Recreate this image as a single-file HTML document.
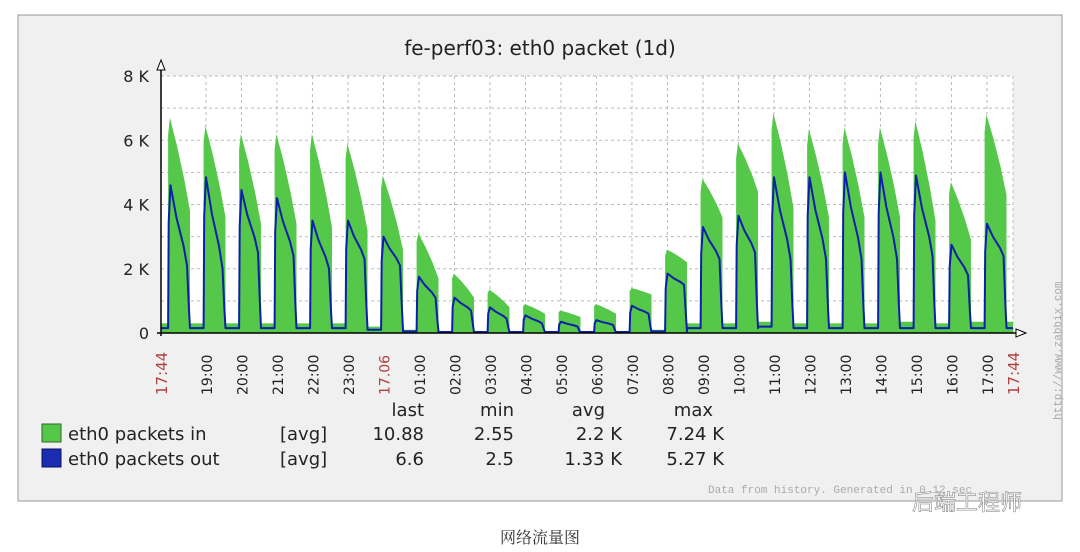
<!DOCTYPE html>
<html><head><meta charset="utf-8"><style>
body{margin:0;width:1080px;height:552px;background:#fff;overflow:hidden;font-family:"Liberation Sans","DejaVu Sans",sans-serif}
svg{position:absolute;left:0;top:0}
</style></head><body>
<svg id="chart" width="1080" height="552" xmlns="http://www.w3.org/2000/svg">
<rect x="18" y="15" width="1044" height="486" fill="#f0f0f0" stroke="#999"/>
<rect x="161" y="76" width="852" height="257" fill="#fff"/>
<g id="grid"></g>
<g id="marks"></g>
<g id="axes"></g>
<text x="540" y="55" text-anchor="middle" font-size="20" fill="#222" font-family="DejaVu Sans, sans-serif">fe-perf03: eth0 packet   (1d)</text>
<g font-family="DejaVu Sans, sans-serif" font-size="18" fill="#222">
<text x="424" y="416" text-anchor="end">last</text><text x="514" y="416" text-anchor="end">min</text><text x="605" y="416" text-anchor="end">avg</text><text x="713" y="416" text-anchor="end">max</text>
<rect x="42" y="424" width="19" height="18" fill="#55c84a" stroke="#2a6a22"/>
<text x="68" y="440">eth0 packets in</text>
<text x="280" y="440">[avg]</text><text x="424" y="440" text-anchor="end">10.88</text><text x="514" y="440" text-anchor="end">2.55</text><text x="622" y="440" text-anchor="end">2.2 K</text><text x="724" y="440" text-anchor="end">7.24 K</text>
<rect x="42" y="449" width="19" height="18" fill="#1a2db0" stroke="#0a1060"/>
<text x="68" y="465">eth0 packets out</text>
<text x="280" y="465">[avg]</text><text x="424" y="465" text-anchor="end">6.6</text><text x="514" y="465" text-anchor="end">2.5</text><text x="622" y="465" text-anchor="end">1.33 K</text><text x="724" y="465" text-anchor="end">5.27 K</text>
</g>
<text x="708" y="493" font-family="Liberation Mono, monospace" font-size="11" fill="#aaa">Data from history. Generated in 0.12 sec</text>
<text transform="translate(1061,420) rotate(-90)" font-family="Liberation Mono, monospace" font-size="11" fill="#aaa">http://www.zabbix.com</text>
<text x="912" y="510" font-family="Liberation Sans, Noto Sans CJK SC, sans-serif" font-size="22" fill="#fff" stroke="#777" stroke-width="0.5">后端工程师</text>
<text x="540" y="543" text-anchor="middle" font-family="Liberation Serif, Noto Serif CJK SC, serif" font-size="16" fill="#333">网络流量图</text>
</svg>
<script>
const hourLabels=["19:00","20:00","21:00","22:00","23:00","17.06","01:00","02:00","03:00","04:00","05:00","06:00","07:00","08:00","09:00","10:00","11:00","12:00","13:00","14:00","15:00","16:00","17:00"];
const yTicks=[0,2,4,6,8];
const burstStartMin=[12,72,132,192,252,312,372,432,492,552,612,672,732,792,852,912,972,1032,1092,1152,1212,1272,1332,1392];
const inPeak=[6.7,6.45,6.2,6.2,6.2,5.9,4.9,3.1,1.85,1.35,0.9,0.7,0.9,1.4,2.6,4.8,5.9,6.85,6.35,6.4,6.4,6.6,4.7,6.8];
const inEnd=[3.8,3.6,3.4,3.4,3.3,3.2,2.6,1.7,1.1,0.8,0.6,0.5,0.6,1.2,2.2,3.6,4.4,3.9,3.6,3.6,3.6,3.5,2.9,4.3];
const outPeak=[4.6,4.85,4.45,4.2,3.5,3.5,3.0,1.75,1.1,0.8,0.55,0.35,0.4,0.85,1.85,3.3,3.65,4.85,4.85,5.0,5.0,4.9,2.75,3.4];
const outEnd=[2.1,2.0,2.5,2.4,2.0,2.3,2.1,1.1,0.7,0.45,0.3,0.2,0.25,0.6,1.5,2.3,2.5,2.3,2.3,2.3,2.3,2.4,1.8,2.4];
const inBase=[0.3,0.3,0.3,0.3,0.3,0.3,0.2,0.1,0.05,0.05,0.05,0.05,0.05,0.05,0.1,0.3,0.3,0.35,0.3,0.3,0.3,0.35,0.3,0.35];
const outBase=[0.15,0.15,0.15,0.15,0.15,0.15,0.1,0.05,0.03,0.03,0.03,0.03,0.03,0.03,0.05,0.15,0.15,0.2,0.15,0.15,0.15,0.15,0.15,0.15];
const burstLen=37, totalMin=1440, firstHourMin=76;
const X0=161,X1=1013,Y0=333,Y1=76;
const x=m=>X0+(X1-X0)*m/totalMin;
const y=v=>Y0-(Y0-Y1)*v/8;
const NS="http://www.w3.org/2000/svg";
function mk(tag,attrs,parent){const e=document.createElementNS(NS,tag);for(const k in attrs)e.setAttribute(k,attrs[k]);parent.appendChild(e);return e;}
const grid=document.getElementById('grid'),marks=document.getElementById('marks'),axes=document.getElementById('axes');
for(let v=1;v<=8;v++){const l=mk('line',{x1:X0,x2:X1,y1:y(v),y2:y(v),stroke:'#bbb','stroke-dasharray':'3,3'},grid);}
hourLabels.forEach((lab,i)=>{const xm=x(firstHourMin+60*i);
const l=mk('line',{x1:xm,x2:xm,y1:Y1,y2:Y0,stroke:'#bbb','stroke-dasharray':'3,3'},grid);
const t=mk('text',{transform:`translate(${xm+6},${Y0+62}) rotate(-90)`,'font-size':14,'font-family':'DejaVu Sans, sans-serif',fill:lab==='17.06'?'#b04040':'#222'},axes);t.textContent=lab;});
mk('line',{x1:X1,x2:X1,y1:Y1,y2:Y0,stroke:'#bbb','stroke-dasharray':'3,3'},grid);
let dIn=`M${X0},${Y0}`,dOut='';
burstStartMin.forEach((s,i)=>{const prevEnd=i===0?0:burstStartMin[i-1]+burstLen;
const pk=inPeak[i],en=inEnd[i],op=outPeak[i],oe=outEnd[i];
dIn+=` L${x(prevEnd)},${y(inBase[i])} L${x(s)},${y(inBase[i])} L${x(s)},${y(pk*0.92)} L${x(s+3)},${y(pk)} L${x(s+15)},${y(pk-(pk-en)*0.3)} L${x(s+27)},${y(pk-(pk-en)*0.65)} L${x(s+burstLen)},${y(en)} L${x(s+burstLen)},${y(inBase[i])}`;
dOut+=(i===0?`M${x(prevEnd)},${y(outBase[i])}`:` L${x(prevEnd)},${y(outBase[i])}`)+` L${x(s)},${y(outBase[i])} L${x(s+1)},${y(op*0.75)} L${x(s+4)},${y(op)} L${x(s+14)},${y(op-(op-oe)*0.4)} L${x(s+26)},${y(op-(op-oe)*0.75)} L${x(s+burstLen-5)},${y(oe)} L${x(s+burstLen-2)},${y(oe*0.4)} L${x(s+burstLen)},${y(outBase[i])}`;});
dIn+=` L${X1},${y(inBase[inBase.length-1])} L${X1},${Y0} Z`;
dOut+=` L${X1},${y(outBase[outBase.length-1])}`;
const pin=mk('path',{d:dIn,fill:'#55c84a'},marks);
const pout=mk('path',{d:dOut,fill:'none',stroke:'#0c1fa8','stroke-width':2,'stroke-linejoin':'round'},marks);
mk('line',{x1:X0,x2:X0,y1:Y0+3,y2:62,stroke:'#000','stroke-width':1.5},axes);
mk('line',{x1:X0-4,x2:1020,y1:Y0,y2:Y0,stroke:'#000','stroke-width':1.5},axes);
mk('path',{d:`M${X0-4},70 L${X0},60 L${X0+4},70 Z`,fill:'#fff',stroke:'#000'},axes);
mk('path',{d:`M1016,${Y0-4} L1026,${Y0} L1016,${Y0+4} Z`,fill:'#fff',stroke:'#000'},axes);
yTicks.forEach(v=>{const t=mk('text',{x:149,y:y(v)+6,'text-anchor':'end','font-size':16,'font-family':'DejaVu Sans, sans-serif',fill:'#222'},axes);t.textContent=v===0?'0':v+' K';});
[[X0,'17:44'],[X1,'17:44']].forEach(([xm,lab])=>{const t=mk('text',{transform:`translate(${xm+6},${Y0+62}) rotate(-90)`,'font-size':15,'font-family':'DejaVu Sans, sans-serif',fill:'#b04040'},axes);t.textContent=lab;});
</script>
</body></html>
